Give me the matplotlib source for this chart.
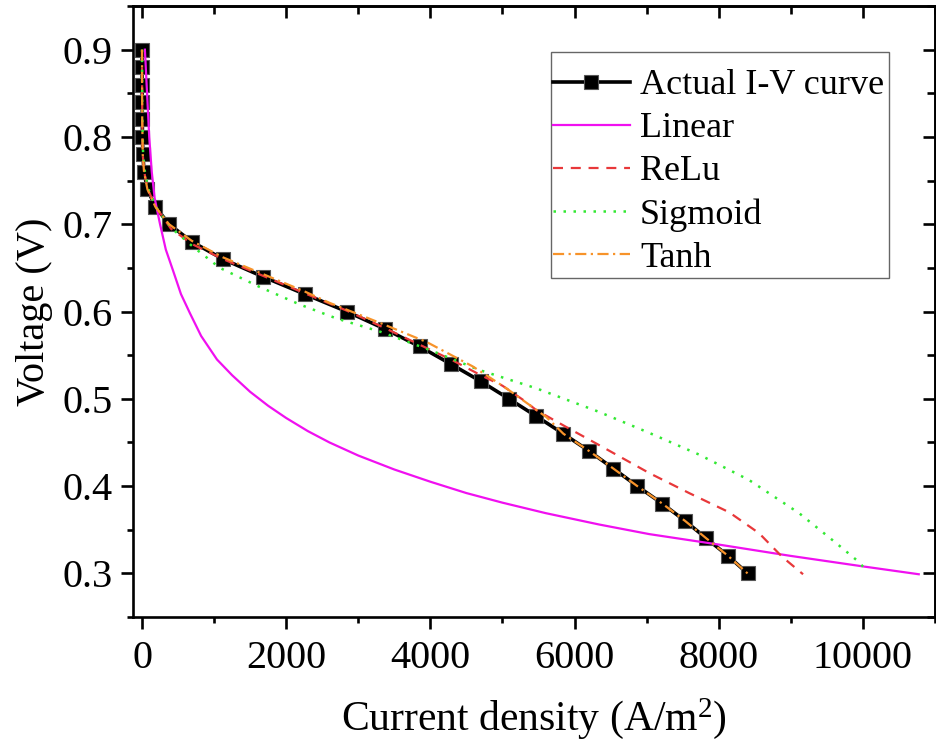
import matplotlib
matplotlib.use("Agg")
import matplotlib.pyplot as plt
from matplotlib.patches import Rectangle
from matplotlib.ticker import MultipleLocator

# ---- data ----
actual_v = [0.90, 0.88, 0.86, 0.84, 0.82, 0.80, 0.78, 0.76, 0.74, 0.72, 0.70,
            0.68, 0.66, 0.64, 0.62, 0.60, 0.58, 0.56, 0.54, 0.52, 0.50,
            0.48, 0.46, 0.44, 0.42, 0.40, 0.38, 0.36, 0.34, 0.32, 0.30]
actual_i = [0, 1, 2, 3, 4, 6, 12, 28, 75, 185, 375,
            690, 1125, 1675, 2255, 2840, 3370, 3850, 4280, 4700, 5090,
            5470, 5845, 6205, 6540, 6870, 7216, 7535, 7830, 8130, 8400]

linear_i = [40, 70, 100, 135, 175, 250, 330, 430, 540, 665, 820, 1040, 1250,
            1500, 1750, 2000, 2300, 2600, 3000, 3500, 4000, 4500, 5000, 5600,
            6340, 7035, 8000, 9000, 10000, 10775]
linear_v = [0.900, 0.850, 0.800, 0.760, 0.730, 0.700, 0.671, 0.647, 0.620,
            0.598, 0.572, 0.545, 0.527, 0.508, 0.492, 0.478, 0.463, 0.450,
            0.435, 0.419, 0.405, 0.392, 0.381, 0.369, 0.356, 0.345, 0.333,
            0.320, 0.308, 0.299]

relu_i = [0, 1, 3, 10, 30, 80, 190, 400, 700, 1125, 1675, 2255, 2840, 3370,
          3850, 4310, 4700, 5000, 5300, 5470, 5900, 6340, 7035, 7590, 8145,
          8560, 8880, 9170]
relu_v = [0.90, 0.86, 0.82, 0.78, 0.76, 0.74, 0.72, 0.695, 0.677, 0.660,
          0.641, 0.621, 0.601, 0.581, 0.562, 0.544, 0.527, 0.515, 0.498,
          0.487, 0.467, 0.447, 0.415, 0.392, 0.370, 0.346, 0.319, 0.299]

sigmoid_i = [0, 2, 5, 15, 40, 90, 190, 320, 430, 710, 1080, 1635, 2190, 2700,
             3300, 3990, 4680, 5470, 6340, 7035, 7730, 8420, 9115, 9625,
             9945, 10040]
sigmoid_v = [0.90, 0.86, 0.82, 0.78, 0.76, 0.74, 0.72, 0.705, 0.694, 0.674,
             0.650, 0.628, 0.608, 0.592, 0.577, 0.556, 0.533, 0.512, 0.485,
             0.461, 0.436, 0.407, 0.369, 0.335, 0.313, 0.304]

tanh_i = [0, 1, 3, 10, 28, 75, 185, 375, 690, 1125, 1675, 2255, 2600, 3300,
          3950, 4590, 5055, 5610, 5845, 6205, 6540, 6870, 7216, 7535, 7830,
          8130, 8400]
tanh_v = [0.90, 0.86, 0.82, 0.78, 0.76, 0.74, 0.72, 0.70, 0.681, 0.662,
          0.643, 0.623, 0.610, 0.587, 0.565, 0.537, 0.512, 0.479, 0.460,
          0.440, 0.420, 0.400, 0.380, 0.360, 0.340, 0.320, 0.300]

labels = ["Actual I-V curve", "Linear", "ReLu", "Sigmoid", "Tanh"]
x_ticks = [0, 2000, 4000, 6000, 8000, 10000]
y_ticks = [0.3, 0.4, 0.5, 0.6, 0.7, 0.8, 0.9]

# ---- style ----
plt.rcParams["font.family"] = ["Liberation Serif", "DejaVu Serif"]
plt.rcParams["mathtext.fontset"] = "custom"
plt.rcParams["mathtext.rm"] = "Liberation Serif"
plt.rcParams["mathtext.it"] = "Liberation Serif:italic"

W, H = 936, 752
fig = plt.figure(figsize=(W / 100, H / 100), dpi=100)
ax = fig.add_axes([0.1421, 0.1795, 0.8568, 0.8125])

ax.plot(actual_i, actual_v, color="black", lw=2.6, marker="s", ms=10,
        mfc="black", mec="#555555", mew=0.8, label=labels[0], zorder=3)
ax.plot(linear_i, linear_v, color="#F010F0", lw=1.6, label=labels[1], zorder=4)
ax.plot(relu_i, relu_v, color="#E8383A", lw=1.6, ls=(0, (4.5, 3.5)),
        label=labels[2], zorder=4)
ax.plot(sigmoid_i, sigmoid_v, color="#33E833", lw=1.8, ls=(0, (1, 3)),
        label=labels[3], zorder=4)
ax.plot(tanh_i, tanh_v, color="#F7932A", lw=1.6, ls=(0, (5, 2, 1, 2)),
        label=labels[4], zorder=5)

ax.set_xlim(-125, 11000)
ax.set_ylim(0.25, 0.95)
ax.set_xticks(x_ticks)
ax.set_yticks(y_ticks)
ax.xaxis.set_minor_locator(MultipleLocator(1000))
ax.yaxis.set_minor_locator(MultipleLocator(0.05))
ax.set_xticklabels([str(t) for t in x_ticks])
ax.set_yticklabels([f"{t:.1f}" for t in y_ticks])

for s in ax.spines.values():
    s.set_linewidth(1.9)

ax.tick_params(axis="both", which="major", direction="out", length=8.5,
               width=1.9, labelsize=29, pad=6)
ax.tick_params(axis="both", which="minor", direction="out", length=4.5,
               width=1.9)
ax.tick_params(axis="x", which="major", pad=8)

# mirrored inward ticks on top and right
axt = ax.secondary_xaxis("top")
axt.set_xticks(x_ticks)
axt.xaxis.set_minor_locator(MultipleLocator(1000))
axt.tick_params(axis="x", which="major", direction="in", length=8.5,
                width=1.9, labeltop=False)
axt.tick_params(axis="x", which="minor", direction="in", length=5.5,
                width=1.9)
axt.spines["top"].set_linewidth(1.9)
axr = ax.secondary_yaxis("right")
axr.set_yticks(y_ticks)
axr.yaxis.set_minor_locator(MultipleLocator(0.05))
axr.tick_params(axis="y", which="major", direction="in", length=8.5,
                width=1.9, labelright=False)
axr.tick_params(axis="y", which="minor", direction="in", length=5.5,
                width=1.9)
axr.spines["right"].set_linewidth(1.9)

ax.set_xlabel(r"Current density (A/m$^2$)", fontsize=30, labelpad=14)
ax.set_ylabel("Voltage (V)", fontsize=29, labelpad=7)

# legend entries (frameless) plus a separate box like the original
box = Rectangle((551 / W, 1 - 278 / H), (889 - 551) / W, (278 - 52) / H,
                transform=fig.transFigure, facecolor="white",
                edgecolor="#666666", lw=1.0, zorder=9, clip_on=False)
ax.add_patch(box)
leg = ax.legend(loc="upper left", bbox_to_anchor=(553 / W, 1 - 69 / H),
                bbox_transform=fig.transFigure, borderaxespad=0,
                fontsize=26, frameon=False, handlelength=2.13,
                handletextpad=0.28, labelspacing=0.27, borderpad=0.0)
leg.set_zorder(10)

fig.savefig("out.png", dpi=100)
